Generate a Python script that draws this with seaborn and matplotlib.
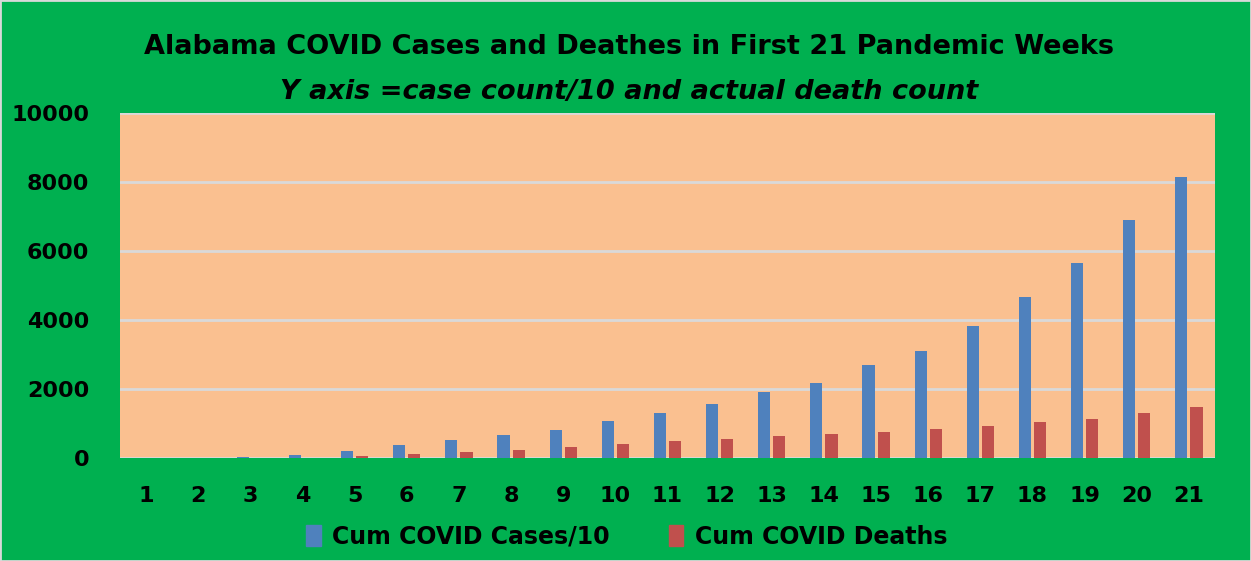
"""
Alabama: casos y muertes acumuladas de COVID en las primeras 21 semanas
"""

import pandas as pd
import matplotlib.pyplot as plt
import seaborn as sns

# Datos
semanas = list(range(1, 22))
casos_div10 = [1, 5, 15, 87, 193, 377, 512, 657, 812, 1082, 1295,
               1575, 1903, 2164, 2705, 3101, 3826, 4657, 5642, 6899, 8153]
muertes = [0, 0, 1, 10, 58, 107, 183, 241, 310, 415, 493,
           560, 638, 705, 763, 850, 937, 1034, 1130, 1295, 1487]
series = ["Cum COVID Cases/10", "Cum COVID Deaths"]
colores = {"Cum COVID Cases/10": "#4F81BD", "Cum COVID Deaths": "#C0504D"}

df = pd.DataFrame({"semana": semanas, series[0]: casos_div10, series[1]: muertes})
df = df.melt(id_vars="semana", var_name="serie", value_name="valor")

sns.set_style("white")
plt.rcParams["font.family"] = ["DejaVu Sans"]
plt.rcParams["text.color"] = "black"
plt.rcParams["xtick.color"] = "black"
plt.rcParams["ytick.color"] = "black"

fig = plt.figure(figsize=(12.51, 5.61), dpi=100, facecolor="#00B050")
ax = fig.add_axes([0.0959, 0.1836, 0.8753, 0.615])
ax.set_facecolor("#FAC090")

sns.barplot(data=df, x="semana", y="valor", hue="serie", palette=colores,
            saturation=1, width=0.58, gap=0.2, linewidth=0,
            ax=ax, legend=False, zorder=3)

ax.set_ylim(0, 10000)
ax.set_xlim(-0.5, 20.5)
ax.set_yticks(range(0, 10001, 2000))
ax.yaxis.grid(True, color="#D9D9D9", linewidth=2, zorder=0)
ax.set_axisbelow(True)
for lado in ax.spines.values():
    lado.set_visible(False)
ax.tick_params(axis="y", length=0, pad=22, labelsize=16)
ax.tick_params(axis="x", length=0, pad=20, labelsize=16)
for t in ax.get_xticklabels() + ax.get_yticklabels():
    t.set_fontweight("bold")
ax.set_xlabel("")
ax.set_ylabel("")

# Títulos
fig.text(0.503, 1 - 47 / 561, "Alabama COVID Cases and Deathes in First 21 Pandemic Weeks",
         ha="center", va="center", fontsize=19.5, fontweight="bold")
fig.text(0.503, 1 - 92 / 561, "Y axis =case count/10 and actual death count",
         ha="center", va="center", fontsize=19.5, fontweight="bold", style="italic")

# Leyenda
handles = [plt.Rectangle((0, 0), 1, 1, color=colores[s]) for s in series]
fig.legend(handles, series, loc="center", bbox_to_anchor=(627 / 1251, 1 - 537 / 561),
           ncol=2, frameon=False, prop={"weight": "bold", "size": 17},
           handlelength=0.6, handleheight=1.0, handletextpad=0.5, columnspacing=2.5)

# Marco gris alrededor de la figura
fig.patches.append(plt.Rectangle((0, 0), 1, 1, transform=fig.transFigure, fill=False,
                                 edgecolor="#D9D9D9", linewidth=2))

fig.savefig("out.png", dpi=100, facecolor=fig.get_facecolor())
